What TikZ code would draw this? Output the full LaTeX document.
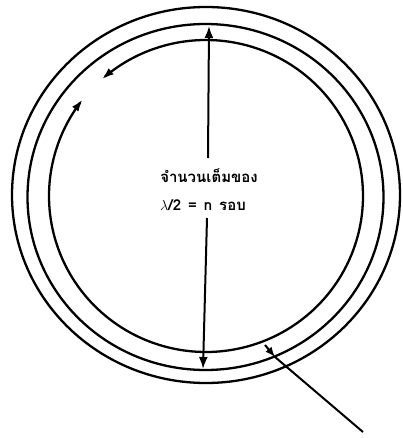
\documentclass[tikz,border=0pt]{standalone}
\usepackage{fontspec}
\newfontfamily\thaifont[Script=Thai]{Loma}
\usetikzlibrary{arrows.meta}
\begin{document}
\begin{tikzpicture}[x=1pt,y=-1pt,
  ring/.style={line width=2.3pt},
  shaft/.style={line width=2pt},
  tipend/.style={-{Latex[length=12pt,width=9pt]}},
  lbl/.style={font=\thaifont\bfseries\fontsize{15}{18}\selectfont, inner sep=0pt}]
\useasboundingbox (0,0) rectangle (402,438);
% rings
\draw[ring] (206,195) ellipse [x radius=194, y radius=188];
\draw[ring] (205.5,197) ellipse [x radius=178, y radius=173];
\draw[ring, {Latex[length=12pt,width=8pt]}-{Latex[length=12pt,width=8pt]}, domain=141.8:491.5, samples=240]
  plot ({206+157*cos(\x)},{196-156*sin(\x)});
% label
\node[lbl] (t1) at (209,176) {จำนวนเต็มของ};
\node[lbl] (t2) at (203,205) {$\lambda$/2\hspace{7pt}=\hspace{7pt}n\hspace{7pt}รอบ};
% diameter arrows
\coordinate (topStart) at (208,158);
\coordinate (topTip) at (209,26);
\coordinate (botStart) at (207,218);
\coordinate (botTip) at (203,369);
\draw[shaft, tipend] (topStart) -- (topTip);
\draw[shaft, tipend] (botStart) -- (botTip);
% pointer
\coordinate (pA) at (265,345);
\coordinate (pB) at (275,357);
\coordinate (pC) at (363,432);
\draw[shaft, -{Latex[length=10pt,width=8pt]}] (pA) -- (pB);
\draw[shaft] (pB) -- (pC);
\end{tikzpicture}
\end{document}
